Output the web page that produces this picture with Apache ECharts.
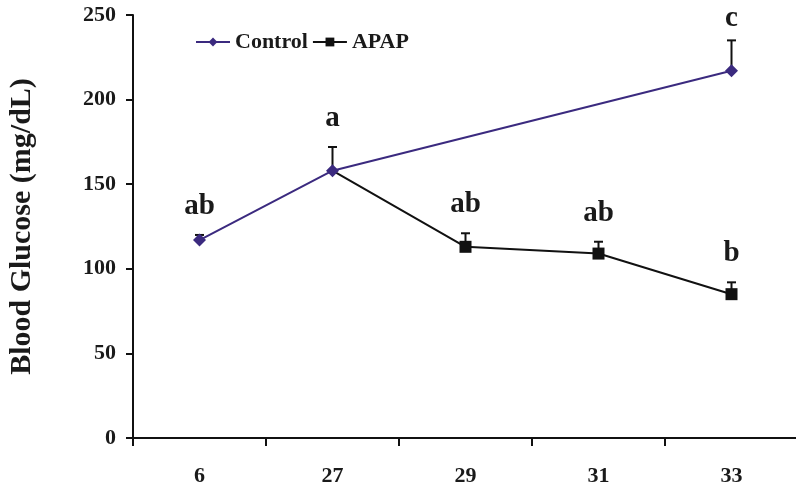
<!DOCTYPE html>
<html lang="en">
<head>
    <meta charset="UTF-8">
    <title>Blood Glucose</title>
    <style>
        html, body { margin: 0; padding: 0; background: #fff; }
    </style>
</head>
<body>
    <div id="main" style="height:489px; width: 796px;"></div>
    <script src="https://cdn.jsdelivr.net/npm/echarts@6/dist/echarts.min.js"></script>
    <script>
        // 数据
        var days = ['6', '27', '29', '31', '33'];
        var control = [117, 158, null, null, 217];
        var controlErr = [3, 14, null, null, 18];
        var apap = [null, 158, 113, 109, 85];
        var apapErr = [null, null, 8, 7, 7];
        var letters = ['ab', 'a', 'ab', 'ab', 'b'];
        var controlLetter33 = 'c';

        var purple = '#3b2a7f';
        var font = '"Liberation Serif", "Times New Roman", serif';

        // 误差线数据 [index, value, err]
        var errData = [];
        control.forEach(function (v, i) {
            if (v != null && controlErr[i] != null) errData.push([i, v, controlErr[i]]);
        });
        apap.forEach(function (v, i) {
            if (v != null && apapErr[i] != null) errData.push([i, v, apapErr[i]]);
        });

        // 字母标注：放在误差线顶部上方
        var letterData = [];
        days.forEach(function (d, i) {
            var tops = [];
            if (apap[i] != null) tops.push(apap[i] + (apapErr[i] || 0));
            if (control[i] != null && i !== 4) tops.push(control[i] + (controlErr[i] || 0));
            if (tops.length) letterData.push([i, Math.max.apply(null, tops), letters[i]]);
        });
        letterData.push([4, control[4] + controlErr[4], controlLetter33]);

        var apapData = apap.map(function (v, i) {
            if (i === 1) return { value: v, symbol: 'none' };
            return v;
        });

        var myChart = echarts.init(document.getElementById('main'));
        var option = {
            animation: false,
            grid: { left: 133, right: -2, top: 15, bottom: 51, outerBoundsMode: 'none' },
            legend: {
                left: 190,
                top: 26,
                itemWidth: 34,
                itemHeight: 11,
                itemGap: 4,
                textStyle: { fontFamily: font, fontWeight: 'bold', fontSize: 22, color: '#1a1a1a' },
                data: ['Control', 'APAP']
            },
            xAxis: {
                type: 'category',
                data: days,
                axisLine: { lineStyle: { color: '#111', width: 2 } },
                axisTick: { show: true, alignWithLabel: false, interval: 0, length: 8, lineStyle: { color: '#111', width: 2 } },
                axisLabel: { margin: 27, fontFamily: font, fontWeight: 'bold', fontSize: 22, color: '#1a1a1a' }
            },
            yAxis: {
                type: 'value',
                min: 0,
                max: 250,
                interval: 50,
                name: 'Blood Glucose (mg/dL)',
                nameLocation: 'middle',
                nameGap: 96,
                nameTextStyle: { fontFamily: font, fontWeight: 'bold', fontSize: 30, color: '#1a1a1a' },
                splitLine: { show: false },
                axisLine: { show: true, lineStyle: { color: '#111', width: 2 } },
                axisTick: { show: true, length: 7, lineStyle: { color: '#111', width: 2 } },
                axisLabel: { margin: 17, fontFamily: font, fontWeight: 'bold', fontSize: 22, color: '#1a1a1a' }
            },
            series: [
                {
                    name: 'APAP',
                    type: 'line',
                    data: apapData,
                    symbol: 'rect',
                    symbolSize: 12,
                    itemStyle: { color: '#111' },
                    lineStyle: { color: '#111', width: 2 },
                    z: 2
                },
                {
                    name: 'Control',
                    type: 'line',
                    data: control,
                    connectNulls: true,
                    symbol: 'diamond',
                    symbolSize: 13,
                    itemStyle: { color: purple },
                    lineStyle: { color: purple, width: 2 },
                    z: 3
                },
                {
                    type: 'custom',
                    name: 'err',
                    data: errData,
                    z: 1,
                    renderItem: function (params, api) {
                        var base = api.coord([api.value(0), api.value(1)]);
                        var top = api.coord([api.value(0), api.value(1) + api.value(2)]);
                        var style = { stroke: '#111', lineWidth: 2 };
                        return {
                            type: 'group',
                            children: [
                                { type: 'line', shape: { x1: base[0], y1: base[1], x2: top[0], y2: top[1] }, style: style },
                                { type: 'line', shape: { x1: top[0] - 4.5, y1: top[1], x2: top[0] + 4.5, y2: top[1] }, style: style }
                            ]
                        };
                    }
                },
                {
                    type: 'custom',
                    name: 'letters',
                    data: letterData,
                    z: 4,
                    renderItem: function (params, api) {
                        var p = api.coord([api.value(0), api.value(1)]);
                        var txt = letterData[params.dataIndex][2];
                        // 顶部的 c 离误差线更近
                        var gap = txt === controlLetter33 ? 7 : 14;
                        return {
                            type: 'text',
                            x: p[0],
                            y: p[1] - gap,
                            style: {
                                text: txt,
                                fontFamily: font,
                                fontWeight: 'bold',
                                fontSize: 29,
                                fill: '#1a1a1a',
                                align: 'center',
                                verticalAlign: 'bottom'
                            }
                        };
                    }
                }
            ]
        };
        myChart.setOption(option);
    </script>
</body>
</html>
